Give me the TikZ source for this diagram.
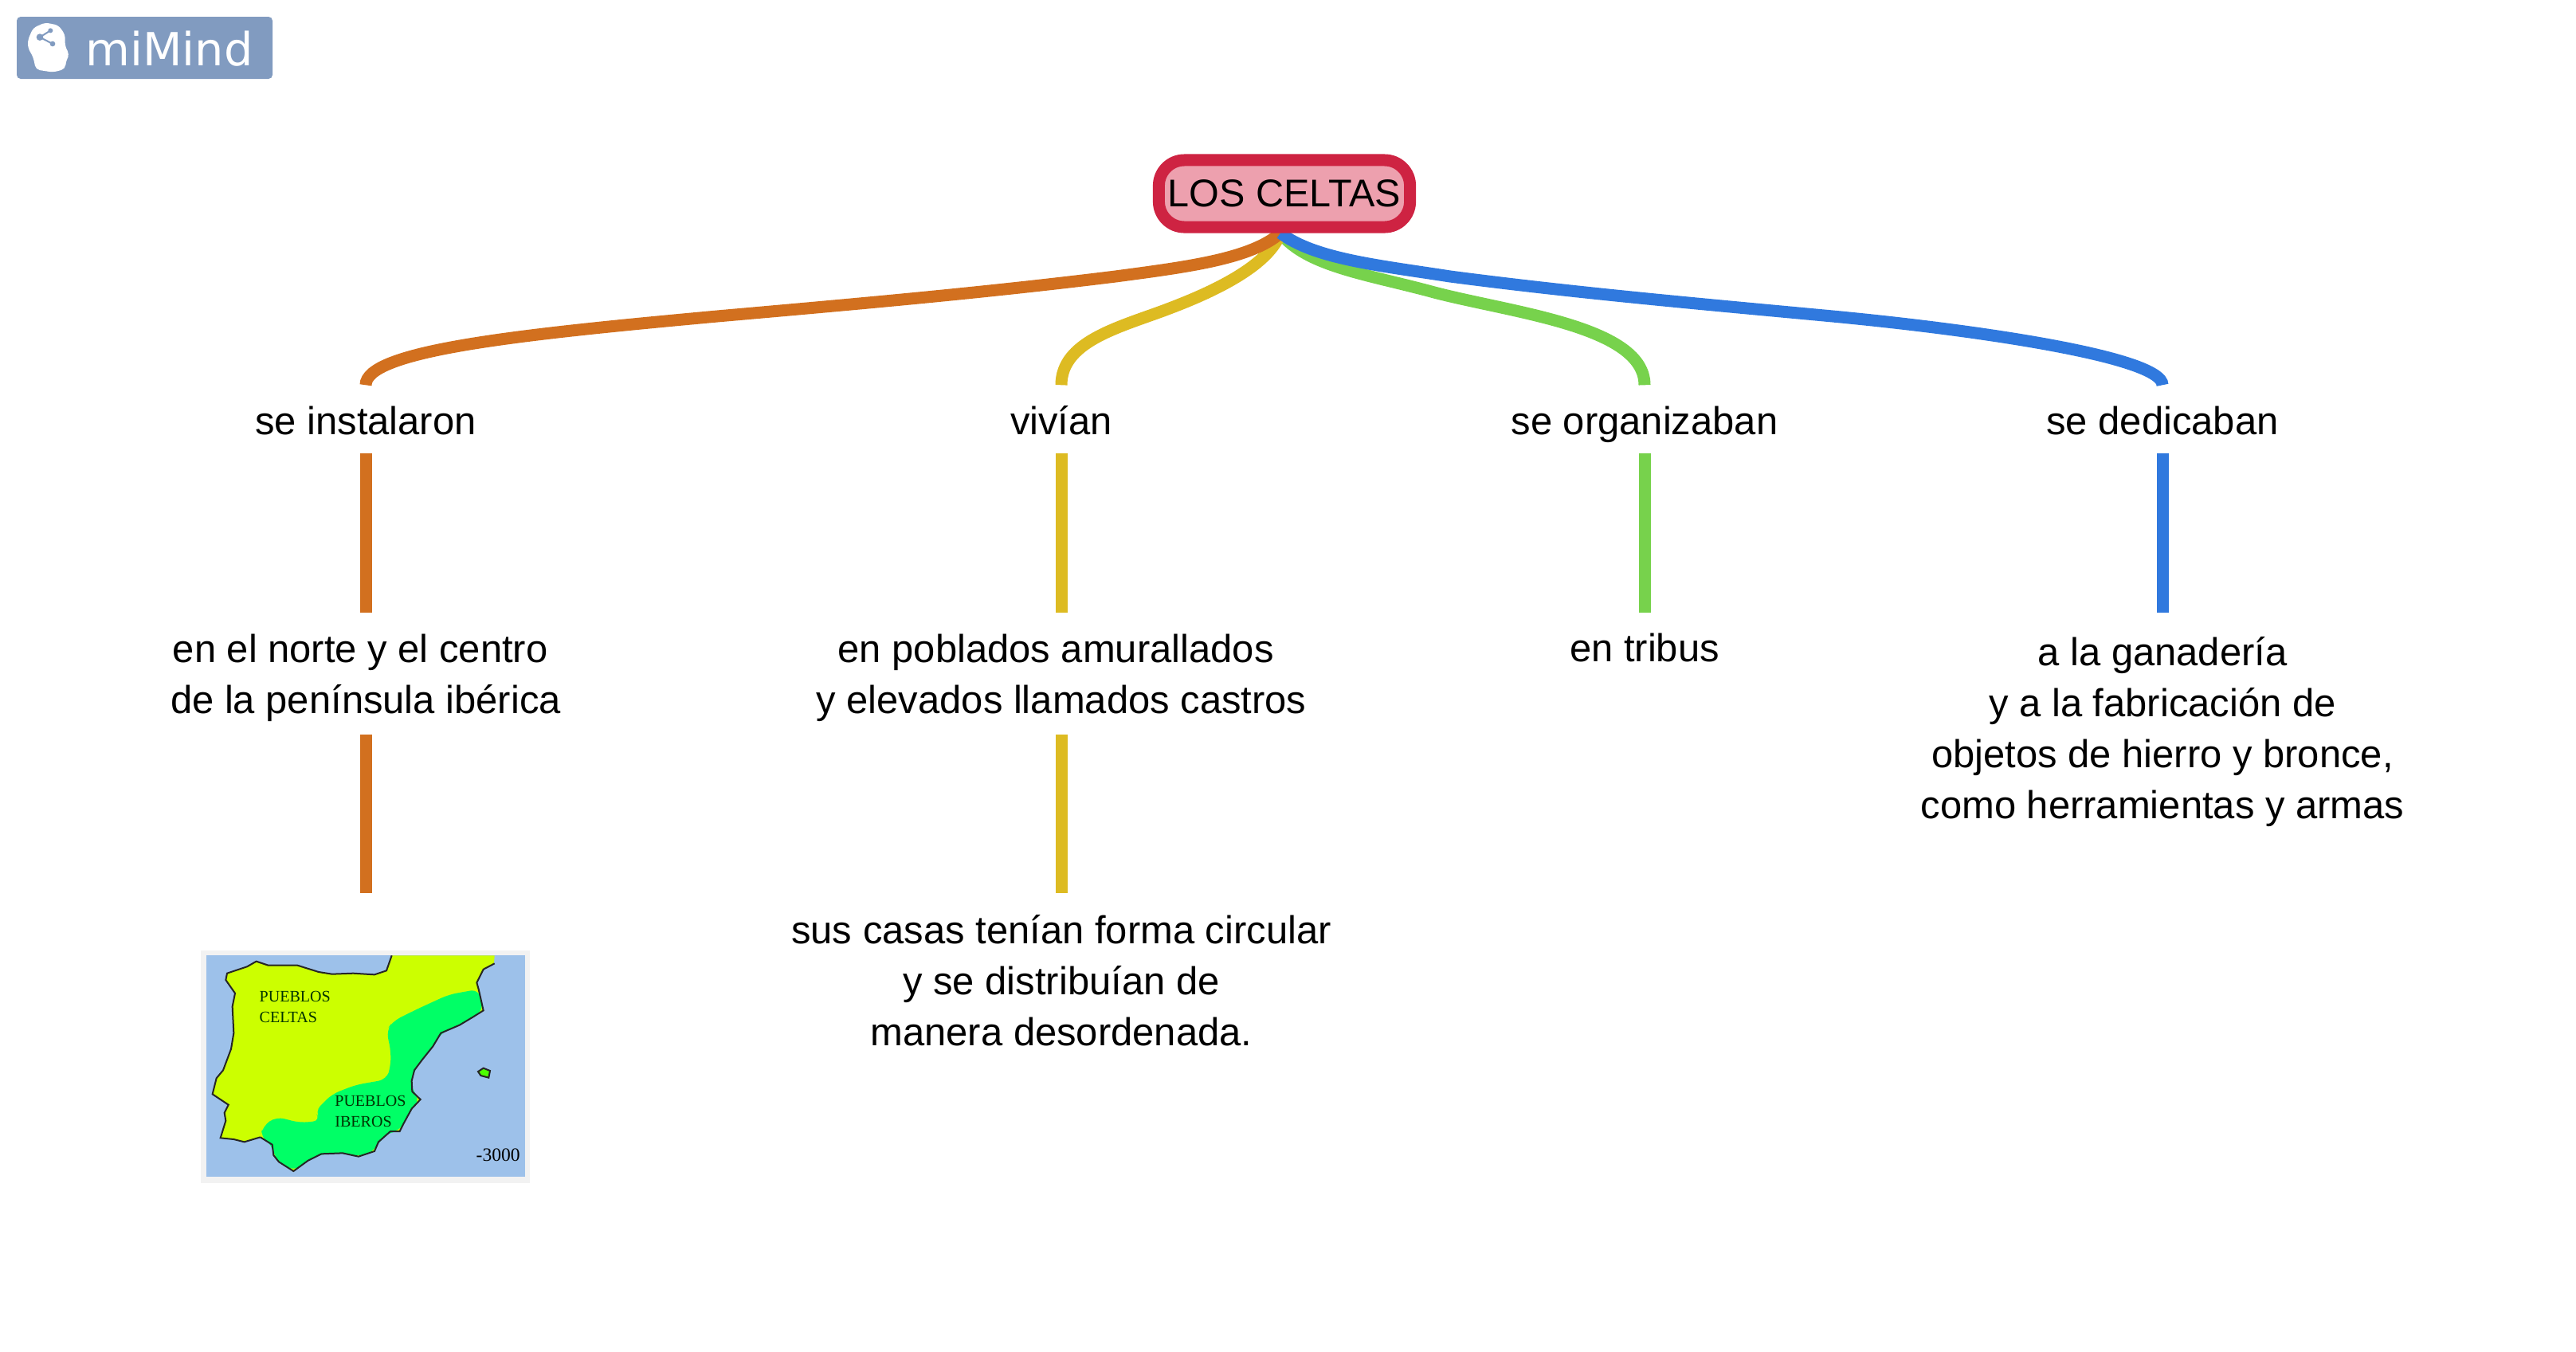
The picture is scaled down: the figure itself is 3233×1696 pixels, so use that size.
\documentclass[tikz,border=0pt]{standalone}
\usepackage{fontspec}
\setmainfont{Liberation Sans}
\newfontfamily\mapfont{Liberation Serif}
\newfontfamily\logofont{DejaVu Sans}
\usetikzlibrary{backgrounds, shadows}
\definecolor{rootred}{HTML}{CE2342}
\definecolor{rootpink}{HTML}{EDA0AE}
\definecolor{lineorange}{HTML}{D2701F}
\definecolor{lineyellow}{HTML}{DDBB22}
\definecolor{linegreen}{HTML}{77D24C}
\definecolor{lineblue}{HTML}{3079DE}
\definecolor{logoblue}{HTML}{819BC0}
\definecolor{seablue}{HTML}{9DC1EA}
\definecolor{landyellow}{HTML}{CCFF00}
\definecolor{landgreen}{HTML}{00FF66}
\newcommand{\linetop}[1]{\rule{0pt}{#1}}
\newcommand{\linebot}{\rule[-7.4pt]{0pt}{7.4pt}}
\newcommand{\coastsouth}{(1112,215) -- (1120,250) -- (1130,295) -- (1090,320) -- (1040,350) -- (970,380) -- (940,430) -- (900,480) -- (870,520) -- (860,560) -- (862,600) -- (893,630) -- (860,665) -- (830,720) -- (815,750) -- (780,750) -- (735,790) -- (720,825) -- (660,845) -- (600,832) -- (520,835) -- (470,860) -- (415,900) -- (360,865) -- (340,840) -- (335,800) -- (290,772)}
\tikzset{
    rootbox/.style={draw=rootred, fill=rootpink, line width=0.15cm, rounded corners=0.32cm, minimum width=3.15cm, minimum height=0.84cm, inner sep=0pt, font=\fontsize{13.8}{18.2}\selectfont, drop shadow={shadow xshift=0.7pt, shadow yshift=-0.7pt, opacity=0.45}},
    verbbox/.style={minimum height=0.84cm, inner sep=0pt, text height=12.2pt, text depth=1pt, font=\fontsize{13.92}{18.2}\selectfont},
    textbox/.style={anchor=north, align=center, inner sep=0pt, font=\fontsize{13.92}{18.2}\selectfont},
    branch/.style={line width=0.15cm},
    maplabel/.style={anchor=west, inner sep=0pt, text=black!80!green, font=\mapfont\fontsize{5.7}{6.5}\selectfont}
}
\begin{document}
\begin{tikzpicture}[x=0.01cm, y=-0.01cm]
    \useasboundingbox (0,0) rectangle (3233,1696);

    \fill[logoblue, rounded corners=0.05cm] (21,21) rectangle (342,99);
    \node[anchor=base west, inner sep=0pt, text=white, font=\logofont\fontsize{16.3}{17}\selectfont] (logo) at (107,82) {miMind};
    \begin{scope}[x=0.01cm/3, y=-0.01cm/3]
        \fill[white, rounded corners=0.05cm] (105,150) -- (125,105) -- (170,85) -- (220,95) -- (245,130) -- (245,175) -- (262,205) -- (250,225) -- (245,260) -- (200,272) -- (135,262) -- (125,215) -- (105,180) -- cycle;
        \draw[logoblue, line width=0.02cm] (190,115) -- (150,140) -- (198,165);
        \fill[logoblue] (150,140) circle (13) (190,115) circle (9) (198,165) circle (10);
    \end{scope}

    \node[rootbox] (root) at (1612,243) {LOS CELTAS};

    \node[verbbox] (instalaron) at (459,526) {se instalaron};
    \node[verbbox] (vivian) at (1332,526) {vivían};
    \node[verbbox] (organizaban) at (2064,526) {se organizaban};
    \node[verbbox] (dedicaban) at (2714,526) {se dedicaban};

    \node[textbox] (norte) at (459,769) {\linetop{17.6pt}en el norte y el centro~\mbox{}\\de la península ibérica\linebot};
    \node[textbox] (poblados) at (1332,769) {\linetop{17.6pt}en poblados amurallados~\mbox{}\\y elevados llamados castros\linebot};
    \node[textbox] (tribus) at (2064,769) {\linetop{17.2pt}en tribus};
    \node[textbox] (ganaderia) at (2714,769) {\linetop{18.7pt}a la ganadería\\y a la fabricación de\\objetos de hierro y bronce,\\como herramientas y armas};
    \node[textbox] (casas) at (1332,1121) {\linetop{17.9pt}sus casas tenían forma circular\\y se distribuían de\\manera desordenada.};
    \coordinate (mapa) at (459,1121);

    \begin{scope}[on background layer]
        \draw[branch, linegreen] ([xshift=-0.05cm]root.south) .. controls (1640,335) and (1720,345) .. (1800,367) .. controls (1900,393) and (2064,410) .. (organizaban.north);
        \draw[branch, lineyellow] ([xshift=-0.05cm]root.south) .. controls (1590,340) and (1500,375) .. (1460,390) .. controls (1400,412) and (1332,430) .. (vivian.north);
        \draw[branch, lineorange] ([xshift=-0.05cm]root.south) .. controls (1570,325) and (1490,335) .. (1400,347) .. controls (1230,368) and (1070,382) .. (900,397) .. controls (650,420) and (459,440) .. (instalaron.north);
        \draw[branch, lineblue] ([xshift=-0.05cm]root.south) .. controls (1650,325) and (1730,333) .. (1820,347) .. controls (1980,368) and (2140,382) .. (2300,397) .. controls (2480,414) and (2714,448) .. (dedicaban.north);
    \end{scope}

    \draw[branch, lineorange] (instalaron.south) -- (norte.north);
    \draw[branch, lineorange] (norte.south) -- (mapa);
    \draw[branch, lineyellow] (vivian.south) -- (poblados.north);
    \draw[branch, lineyellow] (poblados.south) -- (casas.north);
    \draw[branch, linegreen] (organizaban.south) -- (tribus.north);
    \draw[branch, lineblue] (dedicaban.south) -- (ganaderia.north);

    \fill[black!5] (252,1193) rectangle (665,1485);
    \begin{scope}[shift={(230,1170)}, x=0.01cm/3, y=-0.01cm/3]
        \fill[seablue] (87,88) rectangle (1287,920);
        \fill[landyellow] (785,88) -- (1172,88) -- (1170,118) -- (1130,140) -- (1105,190) -- \coastsouth -- (230,790) -- (190,780) -- (140,775) -- (160,710) -- (155,680) -- (170,650) -- (110,610) -- (125,550) -- (150,520) -- (180,440) -- (190,380) -- (185,280) -- (195,230) -- (160,180) -- (165,155) -- (240,130) -- (275,110) -- (320,125) -- (430,125) -- (510,150) -- (560,158) -- (640,155) -- (720,160) -- (765,145) -- cycle;
        \fill[landgreen, rounded corners=0.1cm] \coastsouth -- (300,730) -- (350,695) -- (440,718) -- (518,710) -- (495,675) -- (560,610) -- (650,575) -- (765,555) -- (780,510) -- (782,450) -- (765,370) -- (790,335) -- (880,290) -- (1000,235) -- cycle;
        \draw[black!85, line width=0.02cm] (785,88) -- (765,145) -- (720,160) -- (640,155) -- (560,158) -- (510,150) -- (430,125) -- (320,125) -- (275,110) -- (240,130) -- (165,155) -- (160,180) -- (195,230) -- (185,280) -- (190,380) -- (180,440) -- (150,520) -- (125,550) -- (110,610) -- (170,650) -- (155,680) -- (160,710) -- (140,775) -- (190,780) -- (230,790) -- (290,772);
        \draw[black!85, line width=0.02cm] (1172,118) -- (1130,140) -- (1105,190) -- \coastsouth;
        \draw[black!85, fill=green!70!yellow, line width=0.02cm] (1110,525) -- (1130,512) -- (1155,522) -- (1150,548) -- (1120,540) -- cycle;
        \node[maplabel, align=left] (celtas) at (285,282) {PUEBLOS\\[1pt]CELTAS};
        \node[maplabel, align=left] (iberos) at (569,674) {PUEBLOS\\[1pt]IBEROS};
        \node[maplabel, anchor=east, text=black, font=\mapfont\fontsize{6.7}{8}\selectfont] (anno) at (1270,838) {-3000};
    \end{scope}
\end{tikzpicture}
\end{document}
